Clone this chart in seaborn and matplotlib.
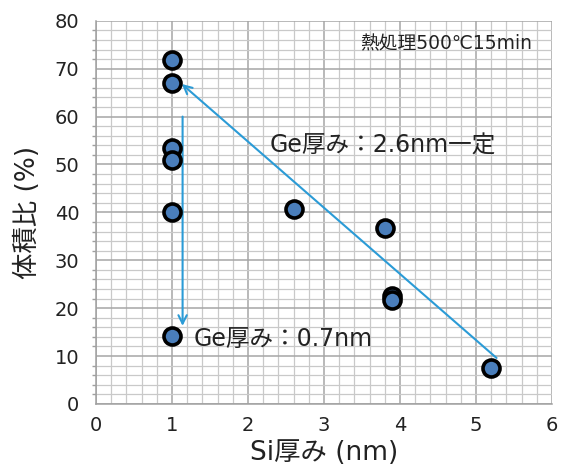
import matplotlib
matplotlib.use("Agg")
import matplotlib.pyplot as plt
from matplotlib.ticker import MultipleLocator
import seaborn as sns
import pandas as pd

# Si layer thickness (nm) and volume fraction (%)
si_thickness = [1.0, 1.0, 1.0, 1.0, 1.0, 1.0, 2.6, 3.8, 3.9, 3.9, 5.2]
volume_ratio = [71.8, 67.1, 53.5, 51.0, 40.0, 14.2, 40.8, 36.8, 22.5, 21.8, 7.6]

x_ticks = [0, 1, 2, 3, 4, 5, 6]
y_ticks = [0, 10, 20, 30, 40, 50, 60, 70, 80]

# trend arrows: (tail, head) in data units
arrow_ge_const = ((5.27, 9.6), (1.13, 66.8))
arrow_ge_thin = ((1.14, 60.0), (1.14, 16.3))

df = pd.DataFrame({"si": si_thickness, "ratio": volume_ratio})

sns.set_theme(style="white")
plt.rcParams["font.family"] = ["DejaVu Sans", "Noto Sans CJK JP"]

fig = plt.figure(figsize=(5.61, 4.73), dpi=100)
ax = fig.add_axes([0.171, 0.146, 0.813, 0.810])

ax.set_xlim(0, 6)
ax.set_ylim(0, 80)
ax.set_xticks(x_ticks)
ax.set_yticks(y_ticks)
ax.xaxis.set_minor_locator(MultipleLocator(0.2))
ax.yaxis.set_minor_locator(MultipleLocator(2))
ax.grid(which="major", color="#a6a6a6", linewidth=1.1)
ax.grid(which="minor", color="#c9c9c9", linewidth=0.9)
ax.set_axisbelow(True)

for side in ["top", "right"]:
    ax.spines[side].set_visible(False)
for side in ["left", "bottom"]:
    ax.spines[side].set_color("#a0a0a0")
    ax.spines[side].set_linewidth(1.1)

ax.tick_params(axis="both", which="major", labelsize=14, colors="#222222",
               length=6, width=1, direction="inout")
ax.tick_params(axis="y", which="major", pad=9)
ax.tick_params(axis="x", which="major", pad=6)
ax.tick_params(axis="both", which="major", color="#a0a0a0")
ax.tick_params(axis="y", which="minor", left=True, length=3, color="#a0a0a0")

arrow_color = "#2b9bd6"
for (tail, head) in (arrow_ge_const, arrow_ge_thin):
    ax.annotate("", xy=head, xytext=tail,
                arrowprops=dict(arrowstyle="->", color=arrow_color, lw=1.5,
                                mutation_scale=15, shrinkA=0, shrinkB=0))

sns.scatterplot(data=df, x="si", y="ratio", ax=ax, s=150, color="#4a7ebb",
                edgecolor="black", linewidth=2.6, zorder=5)

ax.set_xlabel("Si厚み (nm)", fontsize=19, color="#222222", labelpad=3)
ax.set_ylabel("体積比 (%)", fontsize=19, color="#222222", labelpad=10)

ax.text(5.74, 75.2, "熱処理500℃15min", fontsize=13.5, ha="right", va="center",
        color="#222222")
ax.text(2.28, 54.0, "Ge厚み：2.6nm一定", fontsize=17, ha="left", va="center",
        color="#222222")
ax.text(1.28, 13.6, "Ge厚み：0.7nm", fontsize=17, ha="left", va="center",
        color="#222222")

fig.savefig("out.png", dpi=100)
